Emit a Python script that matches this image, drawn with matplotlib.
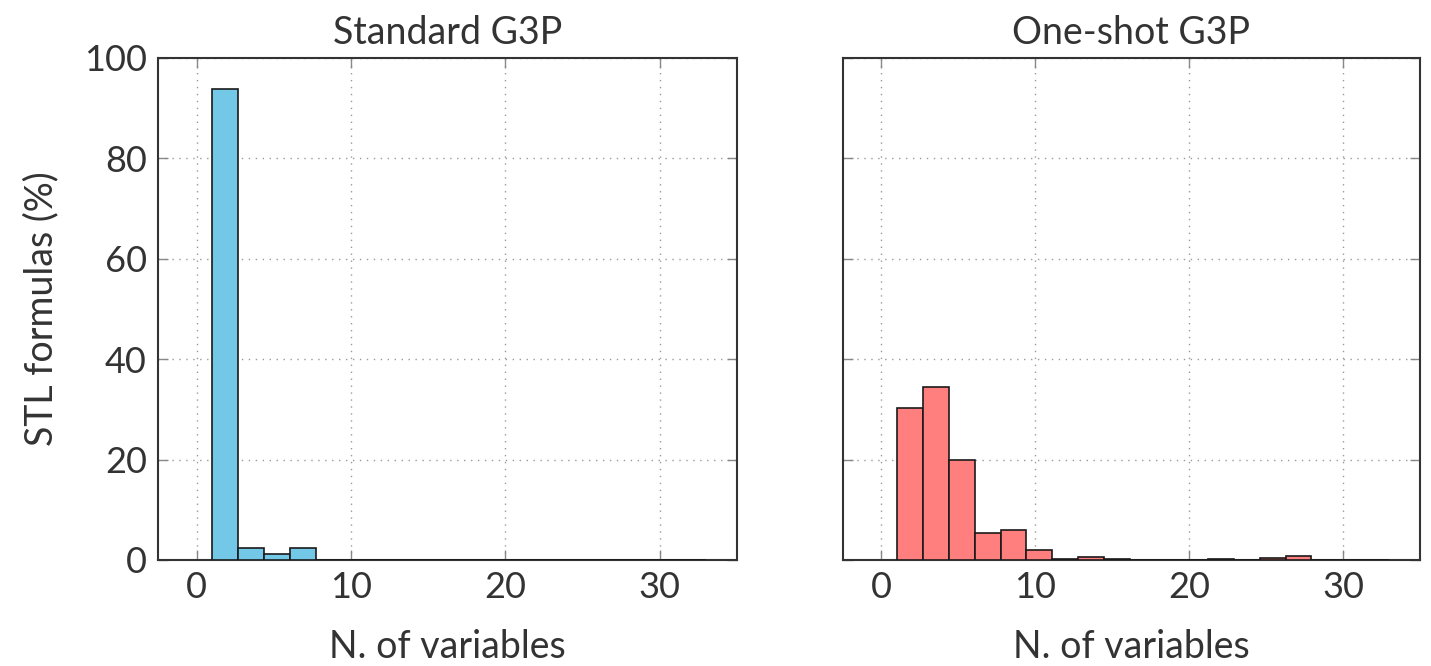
import numpy as np
import matplotlib; matplotlib.use("Agg"); import matplotlib.pyplot as plt

plt.rcParams.update({"font.family": ["Lato", "DejaVu Sans"], "font.size": 26,
                     "text.color": "#333333", "axes.labelcolor": "#333333",
                     "xtick.color": "#333333", "ytick.color": "#333333"})

# histogram bins: 19 equal bins over [1, 33]
edges = np.linspace(1, 33, 20)
# percentage of STL formulas per bin
standard_pct = [93.9, 2.4, 1.2, 2.4, 0, 0, 0, 0, 0, 0, 0, 0, 0, 0, 0, 0, 0, 0, 0]
oneshot_pct = [30.3, 34.5, 20.0, 5.4, 5.9, 2.0, 0.2, 0.5, 0.15, 0, 0, 0, 0.15, 0, 0.4, 0.8, 0, 0, 0]
titles = ["Standard G3P", "One-shot G3P"]
colors = ["#72c8e6", "#ff7f7f"]

fig = plt.figure(figsize=(14.31, 6.66), dpi=100)
ax1 = fig.add_axes([0.1104, 0.1592, 0.4046, 0.7538])
ax2 = fig.add_axes([0.5891, 0.1592, 0.4032, 0.7538])

for ax, vals, t, c in [(ax1, standard_pct, titles[0], colors[0]), (ax2, oneshot_pct, titles[1], colors[1])]:
    ax.hist(edges[:-1], bins=edges, weights=vals, color=c, edgecolor="#1a1a1a", linewidth=1.2, zorder=3)
    ax.set_xlim(-2.5, 35); ax.set_ylim(0, 100)
    ax.set_xticks([0, 10, 20, 30]); ax.set_yticks(range(0, 101, 20))
    ax.grid(True, linestyle=(0, (1, 4)), color="#999999", linewidth=1.0, zorder=0)
    ax.tick_params(direction="in", top=True, right=True, length=7, width=1, color="#888888", pad=8)
    for s in ax.spines.values(): s.set_linewidth(1.5); s.set_color("#333333")
    ax.set_title(t, pad=10, fontsize=27)
    ax.set_xlabel("N. of variables", labelpad=18, fontsize=27)

ax1.set_ylabel("STL formulas (%)", labelpad=18, fontsize=27)
ax2.tick_params(labelleft=False)

plt.savefig("out.png", dpi=100)
